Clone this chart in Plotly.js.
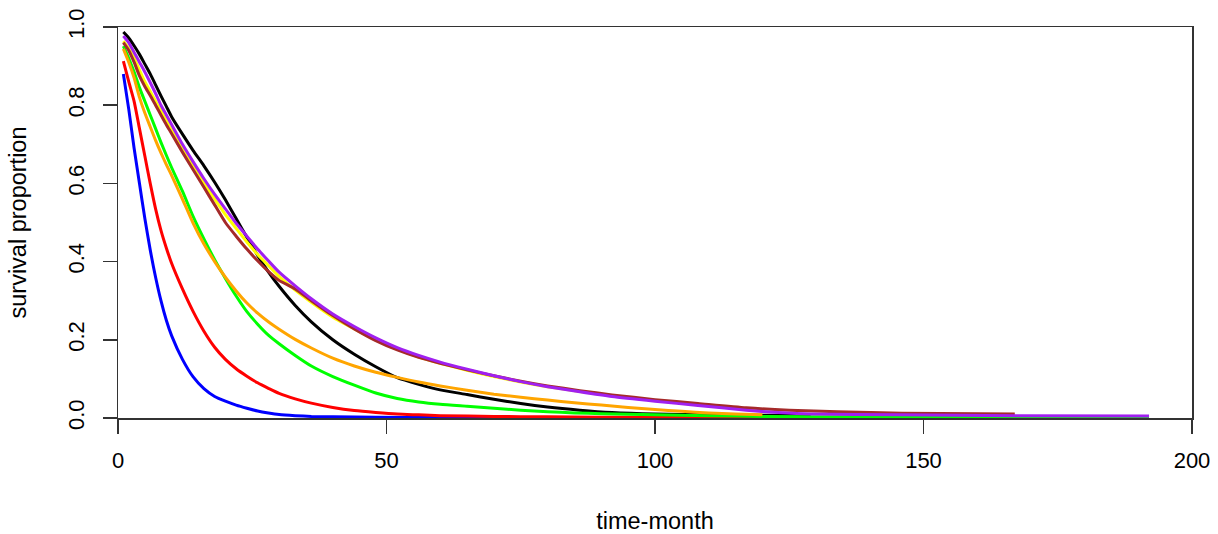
<!DOCTYPE html>
<html>
<head>
<meta charset="utf-8">
<script src="https://cdn.plot.ly/plotly-3.0.1.min.js"></script>
<style>html,body{margin:0;padding:0;background:#fff;}#chart{width:1218px;height:534px;}</style>
</head>
<body>
<div id="chart"></div>
<script>
// ---- data ----
const blackTime  = [1,2,3,4,5,6,7,8,9,10,12,14,16,18,20,22,24,26,28,30,33,36,40,44,48,52,56,60,65,70,75,80,86,92,100,110,119,129];
const blackSurv  = [0.987,0.972,0.952,0.93,0.905,0.88,0.852,0.824,0.797,0.77,0.726,0.684,0.645,0.603,0.558,0.51,0.462,0.416,0.374,0.337,0.288,0.246,0.2,0.163,0.131,0.103,0.086,0.072,0.06,0.048,0.037,0.028,0.02,0.014,0.010,0.008,0.007,0.007];

const blueTime   = [1,2,3,4,5,6,7,8,9,10,12,14,16,18,20,22,24,26,28,30,33,36,40,48,60,82];
const blueSurv   = [0.88,0.79,0.69,0.60,0.51,0.43,0.36,0.30,0.25,0.21,0.15,0.105,0.075,0.055,0.043,0.033,0.025,0.018,0.013,0.009,0.006,0.004,0.003,0.002,0.001,0.0005];

const redTime    = [1,2,3,4,5,6,7,8,9,10,12,14,16,18,20,22,24,26,28,30,33,36,40,44,48,52,56,60,70,80,90,100,122];
const redSurv    = [0.913,0.86,0.81,0.74,0.67,0.60,0.535,0.48,0.435,0.395,0.33,0.272,0.222,0.181,0.15,0.126,0.107,0.09,0.076,0.063,0.049,0.038,0.027,0.019,0.014,0.010,0.008,0.006,0.004,0.003,0.002,0.0015,0.001];

const greenTime  = [1,2,3,4,5,6,7,8,9,10,12,14,16,18,20,22,24,26,28,30,33,36,40,44,48,52,56,60,65,70,75,80,85,90,100,110,120,140,192];
const greenSurv  = [0.951,0.92,0.885,0.845,0.81,0.775,0.74,0.705,0.672,0.64,0.58,0.515,0.458,0.405,0.357,0.312,0.272,0.24,0.212,0.19,0.16,0.133,0.106,0.084,0.064,0.05,0.041,0.035,0.03,0.025,0.02,0.016,0.013,0.011,0.008,0.006,0.004,0.003,0.002];

const orangeTime = [1,2,3,4,5,6,7,8,9,10,12,14,16,18,20,22,24,26,28,30,33,36,40,44,48,52,56,60,65,70,75,80,85,90,95,100,105,110,115,120];
const orangeSurv = [0.944,0.91,0.87,0.82,0.78,0.745,0.71,0.678,0.648,0.62,0.56,0.498,0.445,0.40,0.36,0.325,0.294,0.268,0.246,0.227,0.201,0.179,0.153,0.133,0.117,0.104,0.092,0.082,0.071,0.061,0.053,0.046,0.039,0.033,0.027,0.022,0.017,0.013,0.010,0.008];

const yellowTime = [1,2,3,4,5,6,7,8,9,10,12,14,16,18,20,22,24,26,28,30,33,36,40,44,48,52,56,60,65,70,75,80,86,92,100,108,114,120];
const yellowSurv = [0.964,0.945,0.92,0.89,0.86,0.835,0.81,0.785,0.76,0.735,0.69,0.645,0.60,0.56,0.52,0.485,0.45,0.418,0.39,0.362,0.327,0.296,0.258,0.228,0.20,0.176,0.156,0.14,0.122,0.106,0.092,0.08,0.068,0.057,0.045,0.034,0.027,0.02];

const brownTime  = [1,2,3,4,5,6,7,8,9,10,12,14,16,18,20,22,24,26,28,30,33,36,40,44,48,52,56,60,65,70,75,80,86,92,100,108,117,125,134,146,167];
const brownSurv  = [0.96,0.94,0.91,0.875,0.848,0.825,0.80,0.775,0.75,0.727,0.68,0.635,0.59,0.545,0.50,0.465,0.432,0.402,0.375,0.352,0.33,0.30,0.262,0.228,0.198,0.174,0.155,0.14,0.123,0.108,0.094,0.082,0.07,0.059,0.047,0.037,0.026,0.020,0.016,0.012,0.010];

const purpleTime = [1,2,3,4,5,6,7,8,9,10,12,14,16,18,20,22,24,26,28,30,33,36,40,44,48,52,56,60,65,70,75,80,86,92,100,108,117,123,129,145,167,192];
const purpleSurv = [0.977,0.96,0.935,0.91,0.885,0.858,0.83,0.80,0.775,0.75,0.70,0.655,0.612,0.572,0.535,0.498,0.465,0.432,0.402,0.373,0.338,0.305,0.266,0.234,0.205,0.18,0.16,0.143,0.125,0.108,0.093,0.08,0.067,0.055,0.043,0.032,0.02,0.014,0.01,0.008,0.006,0.005];

const xTicks = [0,50,100,150,200];
const yTicks = [0,0.2,0.4,0.6,0.8,1.0];
const yTickLabels = ["0.0","0.2","0.4","0.6","0.8","1.0"];

// ---- traces ----
const series = [
  {t: blackTime,  s: blackSurv,  c: "#000000"},
  {t: blueTime,   s: blueSurv,   c: "#0000FF"},
  {t: redTime,    s: redSurv,    c: "#FF0000"},
  {t: greenTime,  s: greenSurv,  c: "#00FF00"},
  {t: orangeTime, s: orangeSurv, c: "#FFA500"},
  {t: yellowTime, s: yellowSurv, c: "#FFFF00"},
  {t: brownTime,  s: brownSurv,  c: "#A52A2A"},
  {t: purpleTime, s: purpleSurv, c: "#A020F0"}
];
const data = series.map(d => ({
  x: d.t, y: d.s, type: "scatter", mode: "lines",
  line: {color: d.c, width: 3, shape: "spline", smoothing: 0.6},
  hoverinfo: "skip", showlegend: false
}));

const tickFont = {family: "Liberation Sans, Arial, sans-serif", size: 22, color: "#000"};
const titleFont = {family: "Liberation Sans, Arial, sans-serif", size: 23.5, color: "#000"};
const layout = {
  width: 1218, height: 534,
  margin: {l: 118, r: 26, t: 27, b: 116},
  paper_bgcolor: "#fff", plot_bgcolor: "#fff",
  font: tickFont,
  showlegend: false,
  xaxis: {
    range: [0, 200], tickvals: xTicks, ticktext: xTicks.map(String),
    showgrid: false, zeroline: false,
    showline: true, mirror: true, linecolor: "#333", linewidth: 1.5,
    ticks: "outside", ticklen: 14, tickwidth: 1.5, tickcolor: "#333",
    ticklabelstandoff: 8,
    tickfont: tickFont,
    title: {text: "time-month", font: titleFont, standoff: 40}
  },
  yaxis: {
    range: [0, 1.0], tickvals: yTicks, ticktext: yTickLabels,
    showgrid: false, zeroline: false,
    showline: true, mirror: true, linecolor: "#333", linewidth: 1.5,
    ticks: "outside", ticklen: 14, tickwidth: 1.5, tickcolor: "#333",
    tickangle: -90, ticklabelstandoff: 10,
    tickfont: tickFont,
    title: {text: "survival proportion", font: titleFont, standoff: 30}
  }
};
Plotly.newPlot("chart", data, layout, {displayModeBar: false, staticPlot: true});
</script>
</body>
</html>
